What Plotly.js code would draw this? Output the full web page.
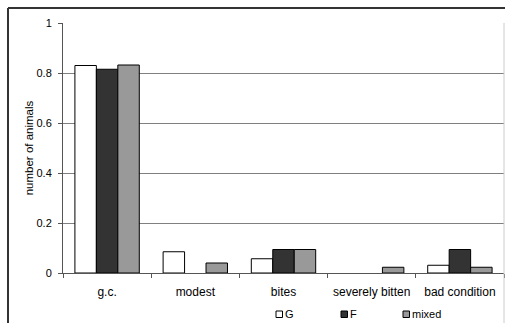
<!DOCTYPE html>
<html>
<head>
<meta charset="utf-8">
<script src="https://cdn.plot.ly/plotly-3.0.1.min.js"></script>
<style>
html,body{margin:0;padding:0;background:#fff;}
#chart{width:505px;height:323px;}
</style>
</head>
<body>
<div id="chart"></div>
<script>
const categories = ["g.c.", "modest", "bites", "severely bitten", "bad condition"];
const seriesNames = ["G", "F", "mixed"];
const valuesG = [0.830, 0.085, 0.057, 0, 0.031];
const valuesF = [0.815, 0, 0.094, 0, 0.094];
const valuesMixed = [0.832, 0.040, 0.094, 0.023, 0.023];
const yTicks = [0, 0.2, 0.4, 0.6, 0.8, 1];
const yTickLabels = ["0", "0.2", "0.4", "0.6", "0.8", "1"];

const colors = ["#ffffff", "#333333", "#999999"];
const allValues = [valuesG, valuesF, valuesMixed];

const traces = allValues.map((vals, i) => ({
  type: "bar",
  name: seriesNames[i],
  x: categories,
  y: vals,
  marker: {color: colors[i], line: {color: "#000000", width: vals.map(v => v > 0 ? 1 : 0)}},
  hoverinfo: "skip",
  showlegend: false
}));

const fam = "Liberation Sans, Arial, sans-serif";
const font = {family: fam, size: 11, color: "#000"};

// plot area geometry (pixels) used to convert legend placement into paper coords
const plotL = 63, plotW = 441, plotT = 23, plotH = 250;
const px2x = px => (px - plotL) / plotW;
const py2y = py => (plotT + plotH - py) / plotH;

// manual legend: small squares + labels
const legendStartX = [276, 341, 403];
const legendY = 314;
const legendShapes = [];
const legendAnns = [];
seriesNames.forEach((name, i) => {
  const x0 = legendStartX[i];
  legendShapes.push({
    type: "rect", xref: "paper", yref: "paper",
    x0: px2x(x0), x1: px2x(x0 + 6.5), y0: py2y(legendY + 3.5), y1: py2y(legendY - 3),
    fillcolor: colors[i], line: {color: "#000", width: 1}
  });
  legendAnns.push({
    xref: "paper", yref: "paper", x: px2x(x0 + 7), y: py2y(legendY),
    xanchor: "left", yanchor: "middle", showarrow: false,
    text: name, font: {family: fam, size: 11, color: "#000"}
  });
});

const layout = {
  width: 505,
  height: 323,
  margin: {l: 63, r: 1, t: 23, b: 50, pad: 0, autoexpand: false},
  paper_bgcolor: "#ffffff",
  plot_bgcolor: "#ffffff",
  font: font,
  barmode: "group",
  bargap: 0.27,
  bargroupgap: 0,
  showlegend: false,
  xaxis: {
    type: "category",
    showgrid: false,
    showline: true,
    linecolor: "#555555",
    linewidth: 1,
    ticks: "outside",
    tickson: "boundaries",
    ticklen: 4,
    tickcolor: "#555555",
    tickfont: {family: fam, size: 12, color: "#000"},
    ticklabelstandoff: 8,
    zeroline: false,
    fixedrange: true
  },
  yaxis: {
    range: [0, 1],
    tickvals: yTicks,
    ticktext: yTickLabels,
    showgrid: true,
    gridcolor: "#808080",
    gridwidth: 1,
    showline: true,
    linecolor: "#555555",
    linewidth: 1,
    ticks: "outside",
    ticklen: 4,
    tickcolor: "#555555",
    tickfont: font,
    ticklabelstandoff: 4,
    zeroline: false,
    title: {text: "number of animals", font: {family: fam, size: 11.5, color: "#000"}, standoff: 0},
    fixedrange: true
  },
  annotations: legendAnns,
  shapes: [
    {type: "line", xref: "paper", yref: "paper", x0: px2x(8), x1: px2x(8), y0: py2y(330), y1: py2y(8), line: {color: "#333333", width: 2}},
    {type: "line", xref: "paper", yref: "paper", x0: px2x(8), x1: px2x(506), y0: py2y(8), y1: py2y(8), line: {color: "#333333", width: 2}},
    {type: "line", xref: "paper", yref: "paper", x0: 1, x1: 1, y0: py2y(330), y1: 1, line: {color: "#cccccc", width: 1}}
  ].concat(legendShapes)
};

Plotly.newPlot("chart", traces, layout, {displayModeBar: false, staticPlot: true});
</script>
</body>
</html>
